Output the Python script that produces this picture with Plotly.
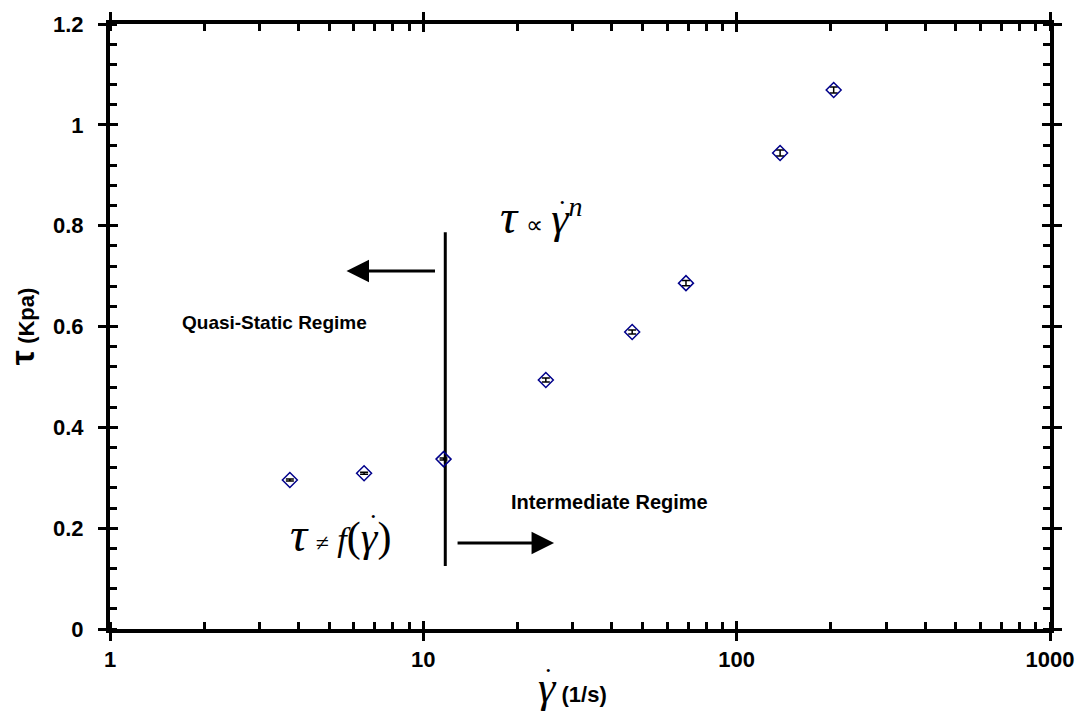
import plotly.graph_objects as go

# data
shear_rate = [3.75, 6.47, 11.6, 24.6, 46.4, 68.9, 137.6, 204.0]
tau_kpa = [0.2955, 0.309, 0.337, 0.494, 0.589, 0.686, 0.944, 1.069]
tau_err = [0.002, 0.002, 0.002, 0.004, 0.004, 0.005, 0.006, 0.006]
x_ticks = [1, 10, 100, 1000]
x_tick_labels = ["<b>1</b>", "<b>10</b>", "<b>100</b>", "<b>1000</b>"]
y_ticks = [0, 0.2, 0.4, 0.6, 0.8, 1.0, 1.2]
y_tick_labels = ["<b>0</b>", "<b>0.2</b>", "<b>0.4</b>", "<b>0.6</b>", "<b>0.8</b>", "<b>1</b>", "<b>1.2</b>"]
boundary_x = [11.75, 11.75]
boundary_y = [0.787, 0.125]

AX = "#000000"
SANS = "Liberation Sans, Arial, sans-serif"
SERIF = "Liberation Serif, Times New Roman, serif"

L, R, T, B = 110, 34, 24, 86
W, H = 1086, 715
PW, PH = W - L - R, H - T - B


def px_to_paper(px, py):
    return (px - L) / PW, (H - B - py) / PH


def px_to_data(px, py):
    return 3 * (px - L) / PW, 1.2 * (H - B - py) / PH


fig = go.Figure()

fig.add_trace(go.Scatter(
    x=boundary_x, y=boundary_y, mode="lines",
    line=dict(color="black", width=3), hoverinfo="skip", showlegend=False))

fig.add_trace(go.Scatter(
    x=shear_rate, y=tau_kpa, mode="markers",
    marker=dict(symbol="diamond-open", size=11.5, color="#00008B",
                line=dict(width=1.5, color="#00008B")),
    error_y=dict(type="data", array=tau_err, visible=True, color="black",
                 thickness=1.5, width=4),
    showlegend=False))

# invisible trace for overlay axes (inside part of major ticks)
fig.add_trace(go.Scatter(
    x=shear_rate, y=tau_kpa, xaxis="x2", yaxis="y2", mode="markers",
    marker=dict(opacity=0), hoverinfo="skip", showlegend=False))

common = dict(showgrid=False, zeroline=False, showline=True, linecolor=AX,
              linewidth=4, mirror="ticks", ticks="outside", ticklen=8,
              tickwidth=3, tickcolor=AX)

fig.update_layout(
    width=W, height=H,
    margin=dict(l=L, r=R, t=T, b=B),
    plot_bgcolor="white", paper_bgcolor="white",
    font=dict(family=SANS, color="black"),
    xaxis=dict(type="log", range=[0, 3], tickvals=x_ticks, ticktext=x_tick_labels,
               tickfont=dict(family=SANS, size=22, color="black"),
               minor=dict(ticks="inside", ticklen=7, tickwidth=3, tickcolor=AX,
                          dtick="D1", showgrid=False),
               **common),
    yaxis=dict(range=[0, 1.2], tickvals=y_ticks, ticktext=y_tick_labels,
               tickfont=dict(family=SANS, size=22, color="black"),
               ticklabelstandoff=10,
               minor=dict(ticks="inside", ticklen=7, tickwidth=3, tickcolor=AX,
                          dtick=0.04, showgrid=False),
               **common),
    xaxis2=dict(type="log", range=[0, 3], overlaying="x", anchor="y2",
                tickvals=x_ticks, showticklabels=False, showgrid=False, zeroline=False,
                showline=False, mirror="ticks", ticks="inside", ticklen=8, tickwidth=3,
                tickcolor=AX),
    yaxis2=dict(range=[0, 1.2], overlaying="y", anchor="x2",
                tickvals=y_ticks, showticklabels=False, showgrid=False, zeroline=False,
                showline=False, mirror="ticks", ticks="inside", ticklen=8, tickwidth=3,
                tickcolor=AX),
)

annots = []
C = dict(xanchor="center", yanchor="middle", showarrow=False)
# arrows
lx, ly = px_to_data(347, 271)
annots.append(dict(x=lx, y=ly, ax=90, ay=0, xref="x", yref="y", text="",
                   showarrow=True, arrowhead=2, arrowsize=1.5, arrowwidth=3,
                   arrowcolor="black"))
rx, ry = px_to_data(555, 543)
annots.append(dict(x=rx, y=ry, ax=-98, ay=0, xref="x", yref="y", text="",
                   showarrow=True, arrowhead=2, arrowsize=1.5, arrowwidth=3,
                   arrowcolor="black"))
# regime labels
qx, qy = px_to_data(275, 322)
annots.append(dict(x=qx, y=qy, xref="x", yref="y", **C,
                   text="<b>Quasi-Static Regime</b>",
                   font=dict(family=SANS, size=19, color="black")))
ix, iy = px_to_data(611, 502)
annots.append(dict(x=ix, y=iy, xref="x", yref="y", **C,
                   text="<b>Intermediate Regime</b>",
                   font=dict(family=SANS, size=20, color="black")))
# formulas
f1x, f1y = px_to_data(542, 216)
annots.append(dict(x=f1x, y=f1y, xref="x", yref="y", **C,
                   text="<i><span style='font-size:48px'>τ</span></i> <span style='font-size:24px'>∝</span> <i><span style='font-size:44px'>γ</span><span style='font-size:40px'><sup>n</sup></span></i>",
                   font=dict(family=SERIF, size=34, color="black")))
d1x, d1y = px_to_paper(563, 203)
annots.append(dict(x=d1x, y=d1y, xref="paper", yref="paper", **C,
                   text="•", font=dict(family=SERIF, size=13, color="black")))
f2x, f2y = px_to_data(341, 534)
annots.append(dict(x=f2x, y=f2y, xref="x", yref="y", **C,
                   text="<i><span style='font-size:48px'>τ</span></i> <span style='font-size:24px'>≠</span> <i><span style='font-size:34px'>f</span></i><span style='font-size:42px'>(</span><i><span style='font-size:42px'>γ</span></i><span style='font-size:42px'>)</span>",
                   font=dict(family=SERIF, size=34, color="black")))
d2x, d2y = px_to_paper(374, 516)
annots.append(dict(x=d2x, y=d2y, xref="paper", yref="paper", **C,
                   text="•", font=dict(family=SERIF, size=13, color="black")))
# axis titles
tx, ty = px_to_paper(573, 687)
annots.append(dict(x=tx, y=ty, xref="paper", yref="paper", **C,
                   text="<span style='font-family:Liberation Serif;font-size:44px'><i>γ</i></span> <b>(1/s)</b>",
                   font=dict(family=SANS, size=22, color="black")))
d3x, d3y = px_to_paper(549, 670)
annots.append(dict(x=d3x, y=d3y, xref="paper", yref="paper", **C,
                   text="•", font=dict(family=SERIF, size=13, color="black")))
yx, yy = px_to_paper(22, 326)
annots.append(dict(x=yx, y=yy, xref="paper", yref="paper", **C,
                   textangle=-90,
                   text="<span style='font-size:34px'><b>τ</b></span> <b>(Kpa)</b>",
                   font=dict(family=SANS, size=22, color="black")))
fig.update_layout(annotations=annots)

fig.write_html("out.html")
